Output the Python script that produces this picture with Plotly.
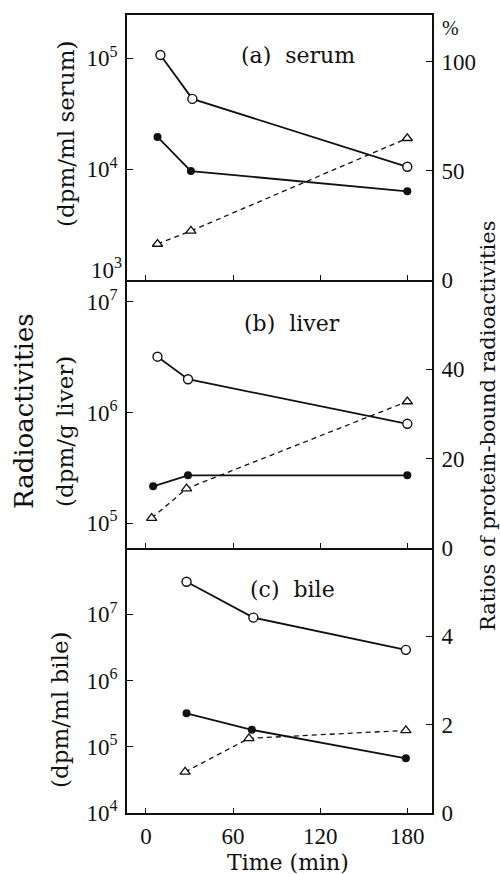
import plotly.graph_objects as go

# ---------------- data ----------------
time_ticks = [0, 60, 120, 180]
time_tick_labels = ["0", "60", "120", "180"]

# (a) serum
a_open_t = [10, 32, 180]
a_open_v = [1.07e5, 4.3e4, 1.05e4]
a_fill_t = [8, 31, 180]
a_fill_v = [1.95e4, 9.6e3, 6.3e3]
a_tri_t = [8, 31, 180]
a_tri_v = [16.5, 22.5, 65]

# (b) liver
b_open_t = [8, 29, 180]
b_open_v = [3.2e6, 2.0e6, 7.9e5]
b_fill_t = [5, 29, 180]
b_fill_v = [2.15e5, 2.7e5, 2.7e5]
b_tri_t = [4, 28, 180]
b_tri_v = [6.7, 13.3, 32.8]

# (c) bile
c_open_t = [28, 74, 179]
c_open_v = [3.1e7, 8.9e6, 2.9e6]
c_fill_t = [28, 73, 179]
c_fill_v = [3.2e5, 1.8e5, 6.7e4]
c_tri_t = [27, 71, 179]
c_tri_v = [0.93, 1.69, 1.87]

a_left_ticks = [1e3, 1e4, 1e5]
a_left_labels = ["", "10<sup>4</sup>", "10<sup>5</sup>"]
a_bottom_label = "10<sup>3</sup>"
a_right_ticks = [0, 50, 100]
b_left_ticks = [1e5, 1e6, 1e7]
b_left_labels = ["10<sup>5</sup>", "10<sup>6</sup>", "10<sup>7</sup>"]
b_right_ticks = [0, 20, 40]
c_left_ticks = [1e4, 1e5, 1e6, 1e7]
c_left_labels = ["10<sup>4</sup>", "10<sup>5</sup>", "10<sup>6</sup>", "10<sup>7</sup>"]
c_right_ticks = [0, 2, 4]

# ---------------- figure ----------------
W, H = 500, 874
ML, MR, MT, MB = 127, 68, 15, 61
PW, PH = W - ML - MR, H - MT - MB

def px(x):
    return (x - ML) / PW

def py(y):
    return (H - MB - y) / PH

INK = "#111111"
SERIF_NUM = "Liberation Serif"
SERIF_TXT = "DejaVu Serif"

fig = go.Figure()

def add_panel(xa, yl, yr, ot, ov, ft, fv, tt, tv):
    fig.add_trace(go.Scatter(x=tt, y=tv, xaxis=xa, yaxis=yr, mode="lines+markers",
                             line=dict(color=INK, width=1.3, dash="5px,4px"),
                             marker=dict(symbol="triangle-up", size=9, color="white",
                                         line=dict(color=INK, width=1.3)),
                             showlegend=False))
    fig.add_trace(go.Scatter(x=ft, y=fv, xaxis=xa, yaxis=yl, mode="lines+markers",
                             line=dict(color=INK, width=1.8),
                             marker=dict(symbol="circle", size=8, color=INK),
                             showlegend=False))
    fig.add_trace(go.Scatter(x=ot, y=ov, xaxis=xa, yaxis=yl, mode="lines+markers",
                             line=dict(color=INK, width=1.8),
                             marker=dict(symbol="circle", size=9, color="white",
                                         line=dict(color=INK, width=1.4)),
                             showlegend=False))

add_panel("x", "y", "y2", a_open_t, a_open_v, a_fill_t, a_fill_v, a_tri_t, a_tri_v)
add_panel("x2", "y3", "y4", b_open_t, b_open_v, b_fill_t, b_fill_v, b_tri_t, b_tri_v)
add_panel("x3", "y5", "y6", c_open_t, c_open_v, c_fill_t, c_fill_v, c_tri_t, c_tri_v)

dom_c = [0, py(548)]
dom_b = [py(548), py(280)]
dom_a = [py(280), 1]

tickfont = dict(family=SERIF_NUM, size=23, color=INK)

def xax(anchor, labels, mirror):
    return dict(domain=[0, 1], anchor=anchor, range=[-13, 197],
                tickmode="array", tickvals=time_ticks, ticktext=time_tick_labels,
                showticklabels=labels, ticks="inside", ticklen=5, tickwidth=1.2,
                tickcolor=INK, showline=True, linecolor=INK, linewidth=1.6,
                mirror=mirror, showgrid=False, zeroline=False, tickfont=tickfont,
                ticklabelstandoff=2)

def yleft(dom, anchor, rng, tv, tt):
    return dict(domain=dom, anchor=anchor, type="log", range=rng,
                tickmode="array", tickvals=tv, ticktext=tt,
                ticks="inside", ticklen=6, tickwidth=1.2, tickcolor=INK,
                showline=True, linecolor=INK, linewidth=1.6, showgrid=False,
                zeroline=False, tickfont=tickfont, ticklabelstandoff=3)

def yright(over, anchor, rng, tv):
    return dict(overlaying=over, anchor=anchor, side="right", range=rng,
                tickmode="array", tickvals=tv, ticktext=[str(v) for v in tv],
                ticks="inside", ticklen=6, tickwidth=1.2, tickcolor=INK,
                showline=True, linecolor=INK, linewidth=1.6, showgrid=False,
                zeroline=False, tickfont=tickfont, ticklabelstandoff=3)

fig.update_layout(
    width=W, height=H,
    margin=dict(l=ML, r=MR, t=MT, b=MB),
    paper_bgcolor="white", plot_bgcolor="white",
    showlegend=False,
    xaxis=xax("y", False, True),
    xaxis2=xax("y3", False, False),
    xaxis3=xax("y5", True, False),
    yaxis=yleft(dom_a, "x", [3, 5.39], a_left_ticks, a_left_labels),
    yaxis2=yright("y", "x", [0, 121.5], a_right_ticks),
    yaxis3=yleft(dom_b, "x2", [4.774, 7.199], b_left_ticks, b_left_labels),
    yaxis4=yright("y3", "x2", [0, 60], b_right_ticks),
    yaxis5=yleft(dom_c, "x3", [4, 8], c_left_ticks, c_left_labels),
    yaxis6=yright("y5", "x3", [0, 6], c_right_ticks),
)

NB = "\u00a0"

def ann(text, x, y, angle=0, size=22, family=SERIF_TXT, xanchor="center"):
    fig.add_annotation(text=text, x=px(x), y=py(y), xref="paper", yref="paper",
                       showarrow=False, textangle=angle, xanchor=xanchor,
                       yanchor="middle", font=dict(family=family, size=size, color=INK))

# bottom log label of panel (a), lifted above the panel boundary as in the reference
ann(a_bottom_label, 124, 268, size=23, family=SERIF_NUM, xanchor="right")

ann("(a)" + NB * 2 + "serum", 298, 56)
ann("(b)" + NB * 2 + "liver", 292, 323)
ann("(c)" + NB * 2 + "bile", 292, 589)
ann("(dpm/ml" + NB + "serum)", 66, 134, angle=-90, size=23)
ann("Radioactivities", 24, 411, angle=-90, size=26)
ann("(dpm/g" + NB + "liver)", 65, 432, angle=-90, size=23)
ann("(dpm/ml" + NB + "bile)", 60, 710, angle=-90, size=23)
ann("Ratios of protein-bound radioactivities", 488, 426, angle=-90, size=21)
ann("%", 450, 28, size=20, family=SERIF_NUM)
ann("Time" + NB + "(min)", 288, 862, size=22)

fig.write_html("out.html")
